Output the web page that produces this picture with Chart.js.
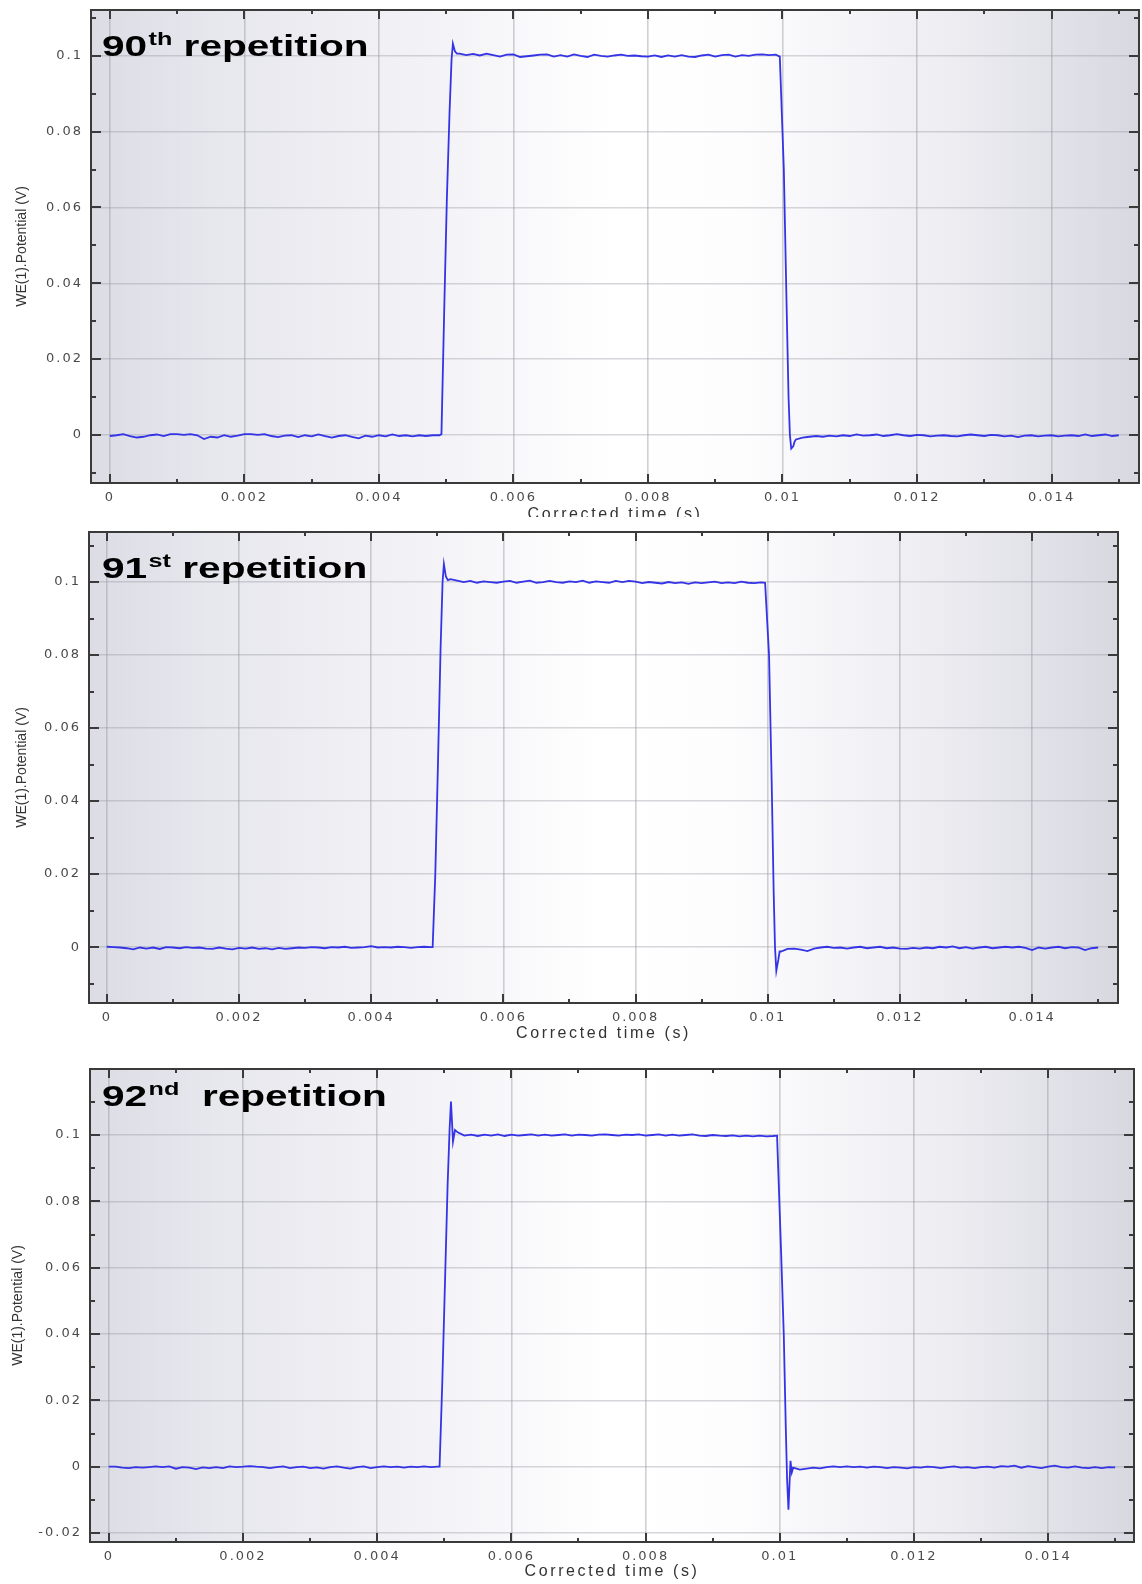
<!DOCTYPE html>
<html><head><meta charset="utf-8">
<script src="https://cdn.jsdelivr.net/npm/chart.js@4.4.1/dist/chart.umd.min.js"></script>
<style>
html,body{margin:0;padding:0;background:#fff;}
body{width:1142px;height:1584px;position:relative;overflow:hidden;}
canvas{position:absolute;left:0;display:block;}
</style></head><body>
<canvas id="c1" width="1142" height="530" style="top:0px"></canvas>
<canvas id="c2" width="1142" height="533" style="top:517px"></canvas>
<canvas id="c3" width="1142" height="534" style="top:1050px"></canvas>
<script>
// ---------- DATA ----------
const time = [
0,0.0001,0.0002,0.0003,0.0004,0.0005,0.0006,0.0007,0.0008,0.0009,
0.001,0.0011,0.0012,0.0013,0.0014,0.0015,0.0016,0.0017,0.0018,0.0019,
0.002,0.0021,0.0022,0.0023,0.0024,0.0025,0.0026,0.0027,0.0028,0.0029,
0.003,0.0031,0.0032,0.0033,0.0034,0.0035,0.0036,0.0037,0.0038,0.0039,
0.004,0.0041,0.0042,0.0043,0.0044,0.0045,0.0046,0.0047,0.0048,0.0049,
0.00493,0.00497,0.00501,0.00505,0.00508,0.0051,0.00513,0.00516,
0.0052,0.0053,0.0054,0.0055,0.0056,0.0057,0.0058,0.0059,
0.006,0.0061,0.0062,0.0063,0.0064,0.0065,0.0066,0.0067,0.0068,0.0069,
0.007,0.0071,0.0072,0.0073,0.0074,0.0075,0.0076,0.0077,0.0078,0.0079,
0.008,0.0081,0.0082,0.0083,0.0084,0.0085,0.0086,0.0087,0.0088,0.0089,
0.009,0.0091,0.0092,0.0093,0.0094,0.0095,0.0096,0.0097,0.0098,0.0099,
0.00996,0.01002,0.01006,0.01009,0.01011,0.01013,0.01016,0.01018,
0.0102,0.0103,0.0104,0.0105,0.0106,0.0107,0.0108,0.0109,
0.011,0.0111,0.0112,0.0113,0.0114,0.0115,0.0116,0.0117,0.0118,0.0119,
0.012,0.0121,0.0122,0.0123,0.0124,0.0125,0.0126,0.0127,0.0128,0.0129,
0.013,0.0131,0.0132,0.0133,0.0134,0.0135,0.0136,0.0137,0.0138,0.0139,
0.014,0.0141,0.0142,0.0143,0.0144,0.0145,0.0146,0.0147,0.0148,0.0149,
0.015
];

const v90 = [
-0.0003,-0.0001,0.0002,-0.0003,-0.0007,-0.0005,-0.0001,0.0001,-0.0003,0.0002,
0.0002,0.0000,0.0002,-0.0001,-0.0011,-0.0005,-0.0007,-0.0001,-0.0005,-0.0002,
0.0002,0.0002,0.0000,0.0002,-0.0003,-0.0006,-0.0002,-0.0001,-0.0006,-0.0001,
-0.0004,0.0001,-0.0003,-0.0007,-0.0003,-0.0001,-0.0005,-0.0009,-0.0002,-0.0005,
-0.0001,-0.0004,0.0001,-0.0003,-0.0001,-0.0004,-0.0001,-0.0003,-0.0001,-0.0001,
0.0002,0.032,0.062,0.085,0.099,0.1032,0.1012,0.1006,
0.1006,0.1002,0.1005,0.1001,0.1006,0.1002,0.0998,0.1003,0.1004,0.0997,
0.0999,0.1001,0.1003,0.1004,0.0998,0.1002,0.0998,0.1004,0.1000,0.0997,
0.1003,0.1000,0.0998,0.1001,0.1003,0.1000,0.1001,0.0999,0.0998,0.1001,
0.0997,0.1001,0.0998,0.1002,0.0998,0.0997,0.1001,0.1003,0.0998,0.1002,
0.1003,0.0998,0.1002,0.1000,0.1003,0.1004,0.1002,0.1003,
0.0998,0.07,0.035,0.01,0.0,-0.0036,-0.003,-0.0018,
-0.0012,-0.0007,-0.0005,-0.0003,-0.0005,-0.0002,-0.0004,-0.0001,-0.0003,0.0001,
-0.0002,-0.0001,0.0001,-0.0003,-0.0001,0.0002,-0.0001,-0.0003,0.0000,-0.0001,
-0.0004,-0.0002,-0.0001,-0.0003,-0.0004,-0.0001,0.0001,-0.0001,-0.0003,0.0000,
-0.0001,-0.0004,-0.0002,-0.0006,-0.0002,-0.0001,-0.0004,-0.0002,-0.0001,-0.0004,
-0.0002,-0.0001,-0.0003,0.0001,-0.0003,-0.0001,0.0001,-0.0003,-0.0001
];

const v91 = [
0.0001,0.0000,-0.0001,-0.0003,-0.0006,-0.0001,-0.0004,-0.0001,-0.0005,0.0000,
-0.0001,-0.0003,0.0000,-0.0002,-0.0001,-0.0004,-0.0005,-0.0001,-0.0004,-0.0006,
-0.0002,-0.0004,-0.0001,-0.0005,-0.0003,-0.0006,-0.0002,-0.0005,-0.0003,-0.0001,
-0.0002,0.0000,-0.0001,-0.0003,0.0000,-0.0001,0.0001,-0.0002,-0.0001,0.0000,
0.0003,-0.0001,0.0000,-0.0001,0.0001,0.0000,-0.0002,0.0000,0.0001,0.0000,
0.0000,0.02,0.05,0.082,0.1,0.1049,0.1015,0.1005,
0.1008,0.1004,0.1000,0.1003,0.0998,0.1002,0.1000,0.0998,0.1001,0.1003,
0.0998,0.1001,0.1004,0.0998,0.1000,0.1003,0.1000,0.0998,0.1002,0.1000,
0.1004,0.0998,0.1002,0.1000,0.0998,0.1003,0.1000,0.1003,0.1001,0.0997,
0.1000,0.0998,0.0996,0.1000,0.0997,0.0999,0.0995,0.0999,0.0997,0.0999,
0.1001,0.0997,0.0999,0.0997,0.1001,0.0998,0.0997,0.0999,
0.0998,0.08,0.045,0.015,0.0,-0.0065,-0.0035,-0.0012,
-0.0012,-0.0005,-0.0004,-0.0007,-0.0011,-0.0004,-0.0001,0.0001,-0.0002,-0.0001,
-0.0004,-0.0001,0.0001,-0.0003,-0.0001,0.0001,-0.0003,-0.0001,-0.0004,-0.0005,
-0.0002,-0.0004,-0.0001,-0.0003,0.0001,-0.0001,0.0002,-0.0003,0.0000,-0.0004,
-0.0001,0.0001,-0.0003,-0.0001,0.0001,-0.0001,0.0001,-0.0002,-0.0008,-0.0001,
-0.0004,-0.0001,0.0001,-0.0003,0.0000,-0.0001,-0.0008,-0.0003,-0.0001
];

const v92 = [
0.0000,0.0000,-0.0003,-0.0004,-0.0001,-0.0003,-0.0001,0.0001,-0.0001,0.0001,
-0.0006,-0.0001,-0.0003,-0.0007,-0.0002,-0.0004,-0.0001,-0.0004,0.0001,-0.0001,
0.0000,0.0002,0.0000,-0.0001,-0.0004,-0.0001,0.0001,-0.0004,-0.0001,0.0000,
-0.0004,-0.0002,-0.0006,-0.0001,0.0001,-0.0003,-0.0006,-0.0001,0.0001,-0.0004,
-0.0001,0.0001,-0.0001,0.0000,-0.0003,0.0000,-0.0001,0.0001,-0.0001,0.0000,
0.0000,0.025,0.055,0.085,0.102,0.1101,0.098,0.1015,
0.1008,0.0998,0.1001,0.0997,0.1001,0.0998,0.1002,0.0997,0.1001,0.0998,
0.1000,0.1002,0.0998,0.1001,0.0998,0.1000,0.1002,0.0998,0.1001,0.1000,
0.0998,0.1001,0.1002,0.1000,0.0998,0.1001,0.1000,0.1002,0.0998,0.1000,
0.1002,0.0998,0.1001,0.0998,0.1000,0.1002,0.0998,0.0997,0.1000,0.0998,
0.0997,0.0999,0.0996,0.0998,0.0996,0.0998,0.0996,0.0997,
0.0998,0.065,0.04,0.012,-0.004,-0.013,0.0018,-0.0017,
-0.0003,-0.0009,-0.0006,-0.0003,-0.0005,-0.0001,0.0001,-0.0001,0.0001,-0.0001,
0.0000,-0.0003,0.0000,-0.0001,-0.0004,-0.0001,-0.0003,-0.0005,-0.0001,-0.0003,
0.0000,-0.0001,-0.0004,-0.0001,0.0001,-0.0003,-0.0001,-0.0004,-0.0001,0.0000,
-0.0003,0.0002,0.0000,0.0003,-0.0003,0.0002,-0.0001,-0.0004,0.0000,0.0003,
-0.0001,-0.0003,0.0001,-0.0003,-0.0004,-0.0001,-0.0004,-0.0001,-0.0002
];

const seriesList = [v90, v91, v92];
const titleParts = [["90","th"," repetition"],["91","st"," repetition"],["92","nd","  repetition"]];
const xLabel = "Corrected time (s)";
const yLabel = "WE(1).Potential (V)";
const xRanges = [[-0.00028,0.0153],[-0.00027,0.0153],[-0.00028,0.01528]];
const yRanges = [[-0.0127,0.1121],[-0.0153,0.1137],[-0.0227,0.1199]];
const xStep = 0.002, yStep = 0.02;

// ---------- LAYOUT / STYLE ----------
const W = 1142;
const panels = [
  {id:'c1', h:530, area:{left:91, top:10, right:1139, bottom:483}, xTitlePad:6, yTitlePad:14, titleX:102, titleBase:56},
  {id:'c2', h:533, area:{left:89, top:15, right:1118, bottom:486}, xTitlePad:7, yTitlePad:14, titleX:102, titleBase:61},
  {id:'c3', h:534, area:{left:90, top:19, right:1134, bottom:492}, xTitlePad:3, yTitlePad:10, titleX:102, titleBase:56}
];

function fmt(v){ return String(+Number(v).toFixed(4)); }

const decoPlugin = {
  id:'deco',
  beforeDraw(chart){
    const ctx = chart.ctx;
    const {left,top,right,bottom} = chart.chartArea;
    ctx.save();
    ctx.fillStyle = '#ffffff';
    ctx.fillRect(0,0,chart.width,chart.height);
    const g = ctx.createLinearGradient(left,0,right,0);
    g.addColorStop(0,'#dcdce5');
    g.addColorStop(0.12,'#e7e7ee');
    g.addColorStop(0.33,'#f3f3f7');
    g.addColorStop(0.5,'#ffffff');
    g.addColorStop(0.62,'#fdfdfe');
    g.addColorStop(0.82,'#ededf2');
    g.addColorStop(1,'#d8d8e1');
    ctx.fillStyle = g;
    ctx.fillRect(left,top,right-left,bottom-top);
    ctx.restore();
    // letter spacing for tick labels and x title (stretched look of the original)
    ['x','y'].forEach(k=>{
      const s = chart.scales[k];
      if (!s._lsPatched){
        const dl = s.drawLabels;
        s.drawLabels = function(a){ const c=this.ctx; const p=c.letterSpacing; c.letterSpacing='2px'; dl.call(this,a); c.letterSpacing=p||'0px'; };
        const dt = s.drawTitle;
        const ls = k==='x' ? '2.6px' : '0px';
        s.drawTitle = function(){ const c=this.ctx; const p=c.letterSpacing; c.letterSpacing=ls; dt.call(this); c.letterSpacing=p||'0px'; };
        s._lsPatched = true;
      }
    });
  },
  beforeDatasetsDraw(chart){
    const ctx = chart.ctx;
    const {left,top,right,bottom} = chart.chartArea;
    const xs = chart.scales.x, ys = chart.scales.y;
    ctx.save();
    ctx.strokeStyle = '#3a3a3a';
    ctx.lineWidth = 2;
    ctx.beginPath();
    const mx = xStep/2, my = yStep/2;
    for (let k = Math.ceil(xs.min/mx); k*mx <= xs.max + 1e-12; k++){
      const px = Math.round(xs.getPixelForValue(k*mx));
      const len = (k%2===0) ? 9 : 4;
      ctx.moveTo(px,bottom); ctx.lineTo(px,bottom-len);
      ctx.moveTo(px,top); ctx.lineTo(px,top+len);
    }
    for (let k = Math.ceil(ys.min/my); k*my <= ys.max + 1e-12; k++){
      const py = Math.round(ys.getPixelForValue(k*my));
      const len = (k%2===0) ? 10 : 5;
      ctx.moveTo(left,py); ctx.lineTo(left+len,py);
      ctx.moveTo(right,py); ctx.lineTo(right-len,py);
    }
    ctx.stroke();
    ctx.strokeRect(left,top,right-left,bottom-top);
    ctx.restore();
  },
  afterDraw(chart, args, opts){
    const ctx = chart.ctx;
    const parts = opts.parts;
    ctx.save();
    ctx.fillStyle = '#000';
    ctx.textBaseline = 'alphabetic';
    ctx.letterSpacing = '0px';
    ctx.translate(opts.x, opts.base);
    ctx.scale(1.4,1);
    const big = 'bold 29px "Liberation Sans", Arial, sans-serif';
    const small = 'bold 18px "Liberation Sans", Arial, sans-serif';
    let cx = 0;
    ctx.font = big; ctx.fillText(parts[0],0,0); cx += ctx.measureText(parts[0]).width + 1;
    ctx.font = small; ctx.fillText(parts[1],cx,-11); cx += ctx.measureText(parts[1]).width;
    ctx.font = big; ctx.fillText(parts[2],cx,0);
    ctx.restore();
  }
};

function noEdgePadding(s){ s.paddingTop = 0; s.paddingBottom = 0; s.paddingLeft = 0; s.paddingRight = 0; }

panels.forEach((p,i)=>{
  const data = time.map((t,j)=>({x:t, y:seriesList[i][j]}));
  new Chart(document.getElementById(p.id), {
    type:'line',
    data:{datasets:[{data, borderColor:'#3434e6', borderWidth:1.8, pointRadius:0, tension:0, fill:false}]},
    plugins:[decoPlugin],
    options:{
      responsive:false, animation:false, devicePixelRatio:1,
      layout:{padding:{left:0, top:p.area.top, right:W-p.area.right, bottom:0}},
      plugins:{legend:{display:false}, tooltip:{enabled:false}, deco:{parts:titleParts[i], x:p.titleX, base:p.titleBase}},
      scales:{
        x:{
          type:'linear', min:xRanges[i][0], max:xRanges[i][1],
          afterFit:(s)=>{ s.height = p.h - p.area.bottom; noEdgePadding(s); },
          grid:{color:'rgba(150,150,160,0.45)', lineWidth:1.6, drawTicks:false, z:-1},
          border:{display:false},
          ticks:{stepSize:xStep, includeBounds:false, autoSkip:false, maxRotation:0, minRotation:0, padding:7,
                 color:'#4a4a4a', font:{family:'"DejaVu Sans", Verdana, sans-serif', size:13}, callback:(v)=>fmt(v)},
          title:{display:true, text:xLabel, color:'#333', font:{family:'"Liberation Sans", Arial, sans-serif', size:16},
                 padding:{top:0, bottom:p.xTitlePad}}
        },
        y:{
          type:'linear', min:yRanges[i][0], max:yRanges[i][1],
          afterFit:(s)=>{ s.width = p.area.left; noEdgePadding(s); },
          grid:{color:'rgba(150,150,160,0.38)', lineWidth:1.4, drawTicks:false, z:-1},
          border:{display:false},
          ticks:{stepSize:yStep, includeBounds:false, autoSkip:false, padding:8,
                 color:'#4a4a4a', font:{family:'"DejaVu Sans", Verdana, sans-serif', size:13}, callback:(v)=>fmt(v)},
          title:{display:true, text:yLabel, color:'#333', font:{family:'"Liberation Sans", Arial, sans-serif', size:14},
                 padding:{top:p.yTitlePad, bottom:0}}
        }
      }
    }
  });
});
</script>
</body></html>
